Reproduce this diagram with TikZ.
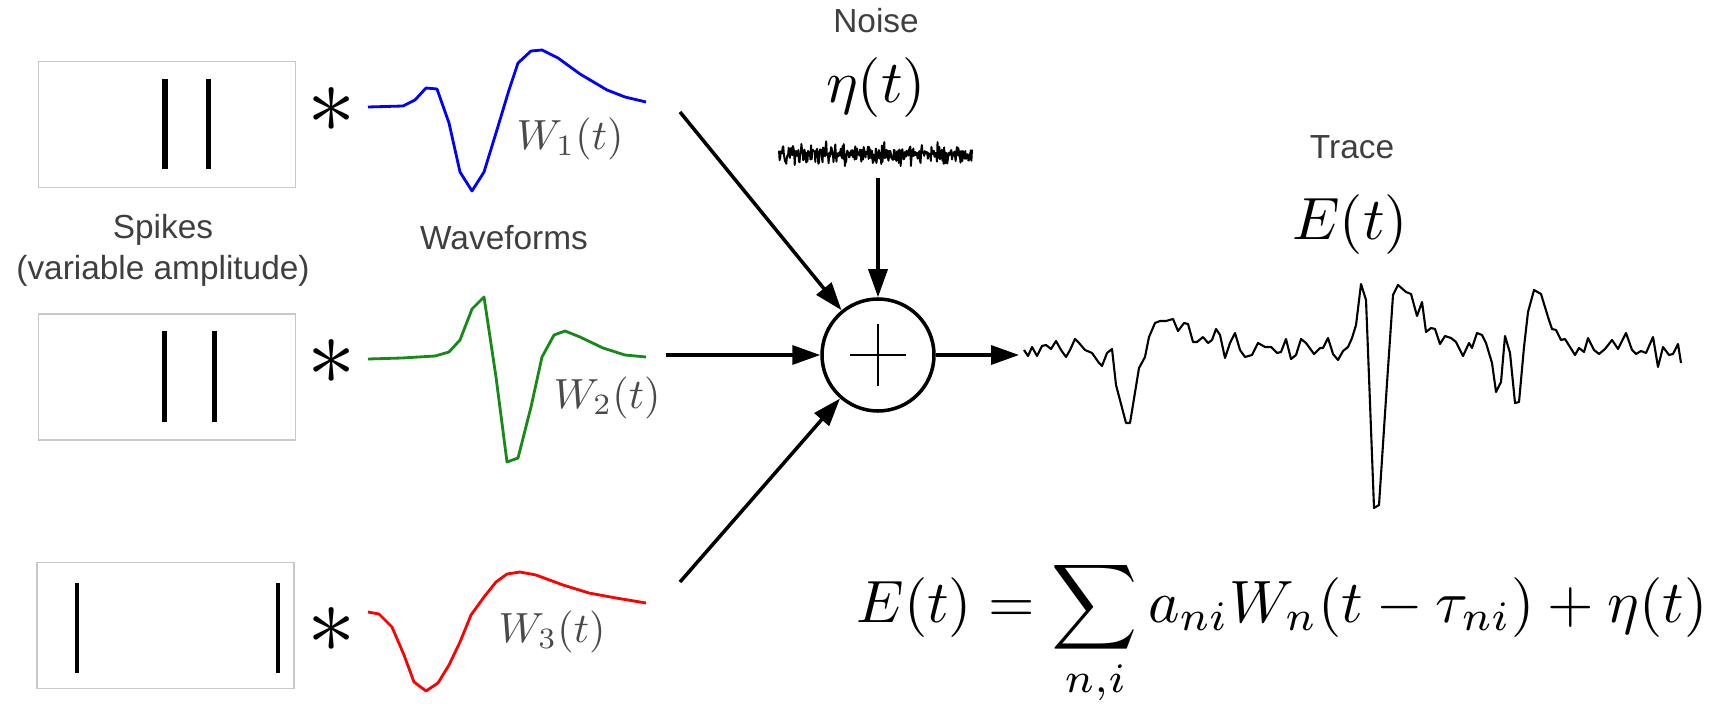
\documentclass[tikz,border=0pt]{standalone}
\usepackage{fontspec}
\setsansfont{Liberation Sans}
\usetikzlibrary{arrows.meta}
\definecolor{textgray}{HTML}{3F3F3F}
\definecolor{wgray}{HTML}{4A4A4A}
\definecolor{boxgray}{HTML}{C8C8C8}
\definecolor{wavegreen}{HTML}{168A16}
\newcommand{\capfont}{\sffamily\fontsize{19}{22}\selectfont}

\begin{document}
\begin{tikzpicture}[x=0.2mm,y=-0.2mm,
    spikebox/.style={draw=boxgray,line width=0.7pt,minimum width=51.4mm,minimum height=25.2mm,inner sep=0pt},
    conv/.style={scale=5.5,inner sep=0pt},
    wave/.style={line width=1.6pt,line join=round},
    wlabel/.style={text=wgray,scale=2.4,inner sep=0pt},
    bigsym/.style={scale=3.4,inner sep=0pt},
    caption/.style={text=textgray,font=\capfont,inner sep=0pt},
    sumnode/.style={circle,draw,line width=2pt,minimum size=22.4mm,inner sep=0pt},
    flow/.style={-{Triangle[length=5.6mm,width=3.8mm]},line width=2pt},
    trace/.style={line width=1.2pt,line join=round}
  ]
\useasboundingbox (0,0) rectangle (1723,704);

% spike trains
\node[spikebox] (s1) at (167,124.5) {};
\node[spikebox] (s2) at (167,377) {};
\node[spikebox] (s3) at (165.5,625.5) {};
\draw[line width=3pt] (165,79) -- (165,169); \draw[line width=2.4pt] (208.5,79) -- (208.5,169);
\draw[line width=3pt] (164.5,331) -- (164.5,422); \draw[line width=2.6pt] (214.5,331) -- (214.5,422);
\draw[line width=2.8pt] (77,583) -- (77,673); \draw[line width=2.3pt] (278,583) -- (278,673);
\node[caption] (spk) at (163,230) {Spikes};
\node[caption] (amp) at (163,271) {(variable amplitude)};

% convolution signs
\foreach \n/\y in {1/110,2/362,3/630}
  \node[conv] (ast\n) at (332,\y) {$\ast$};

% waveforms
\draw[wave,blue] plot coordinates {(368,107) (403,106) (415,100) (426,88) (437,89) (449,123) (460,172)
  (472,191) (484,172) (496,133) (509,90) (518,63) (531,51) (542,50) (558,58) (580,74) (607,90) (625,97) (646,102)};
\draw[wave,wavegreen] plot coordinates {(368,359) (402,358) (435,356) (449,352) (460,340) (472,309) (484,297)
  (496,377) (507,462) (518,458) (531,407) (542,357) (554,335) (565,331) (580,337) (603,348) (625,355) (646,357)};
\draw[wave,red] plot coordinates {(368,612) (379,614) (392,627) (404,655) (414,682) (426,691) (438,683)
  (449,665) (460,642) (471,615) (484,597) (496,582) (507,574) (520,572) (536,575) (563,585) (589,593) (616,598) (646,603)};
\node[wlabel] (w1) at (570,139) {$W_1(t)$};
\node[wlabel] (w2) at (607,398) {$W_2(t)$};
\node[wlabel] (w3) at (552,632) {$W_3(t)$};
\node[caption] (wav) at (504,237.5) {Waveforms};

% noise
\node[caption] (nse) at (876,21) {Noise};
\node[bigsym] (eta) at (876,88) {$\eta(t)$};
\pgfmathsetseed{4242}
\draw[line width=1.1pt,line join=round] plot[domain=779:972,samples=320] (\x,{154+5*(rand+rand+rand)});

% summation
\node[sumnode] (sum) at (878,355) {};
\draw[line width=1.4pt] (sum.center) ++(-28,0) -- ++(56,0);
\draw[line width=1.4pt] (sum.center) ++(0,-31) -- ++(0,62);
\coordinate (in1) at (680,112); \coordinate (in2) at (666,355); \coordinate (in3) at (680,582);
\coordinate (in4) at (878,178); \coordinate (out) at (1019,355);
\draw[flow] (in1) -- (sum); \draw[flow] (in2) -- (sum); \draw[flow] (in3) -- (sum);
\draw[flow] (in4) -- (sum); \draw[flow] (sum) -- (out);

% recorded trace
\node[caption] (trc) at (1352,147) {Trace};
\node[bigsym] (Et) at (1350,225) {$E(t)$};
\draw[trace] plot coordinates {(1024,350) (1028,356) (1032,347) (1037,356) (1042,346) (1046,345) (1051,349)
  (1056,341) (1061,350) (1066,357) (1070,350) (1075,339) (1079,343) (1085,350) (1092,353) (1099,363)
  (1102,366) (1107,353) (1112,349) (1116,385) (1126,423) (1130,423) (1139,368) (1145,357) (1149,337)
  (1155,323) (1160,321) (1166,321) (1173,319) (1178,331) (1184,323) (1188,324) (1193,342) (1197,342)
  (1203,337) (1208,343) (1212,340) (1216,329) (1220,335) (1225,358) (1230,343) (1235,333) (1240,350)
  (1245,357) (1252,355) (1258,343) (1265,347) (1271,347) (1277,353) (1281,352) (1286,339) (1291,359)
  (1296,355) (1301,339) (1306,343) (1314,354) (1320,348) (1323,348) (1328,338) (1333,354) (1338,360)
  (1343,351) (1348,347) (1352,338) (1356,325) (1361,284) (1366,300) (1369,377) (1374,508) (1379,505)
  (1387,383) (1393,295) (1398,285) (1406,292) (1411,294) (1417,316) (1422,302) (1426,332) (1431,328)
  (1435,329) (1440,344) (1445,336) (1451,338) (1456,342) (1463,356) (1469,343) (1472,348) (1477,333)
  (1482,335) (1486,343) (1492,363) (1496,392) (1501,382) (1505,336) (1510,353) (1515,403) (1519,402)
  (1524,347) (1528,312) (1534,290) (1541,294) (1548,317) (1552,329) (1556,330) (1561,340) (1565,339)
  (1570,347) (1575,355) (1579,348) (1584,352) (1588,338) (1594,350) (1599,354) (1605,349) (1612,340)
  (1618,349) (1626,333) (1632,350) (1636,354) (1641,351) (1646,353) (1653,337) (1658,367) (1663,347)
  (1669,355) (1673,354) (1678,344) (1681,363)};

% model
\node[anchor=base,scale=3.4,inner sep=0pt] (eq) at (1282,622)
  {$E(t)=\displaystyle\sum_{n,i}a_{ni}W_n(t-\tau_{ni})+\eta(t)$};
\end{tikzpicture}
\end{document}
